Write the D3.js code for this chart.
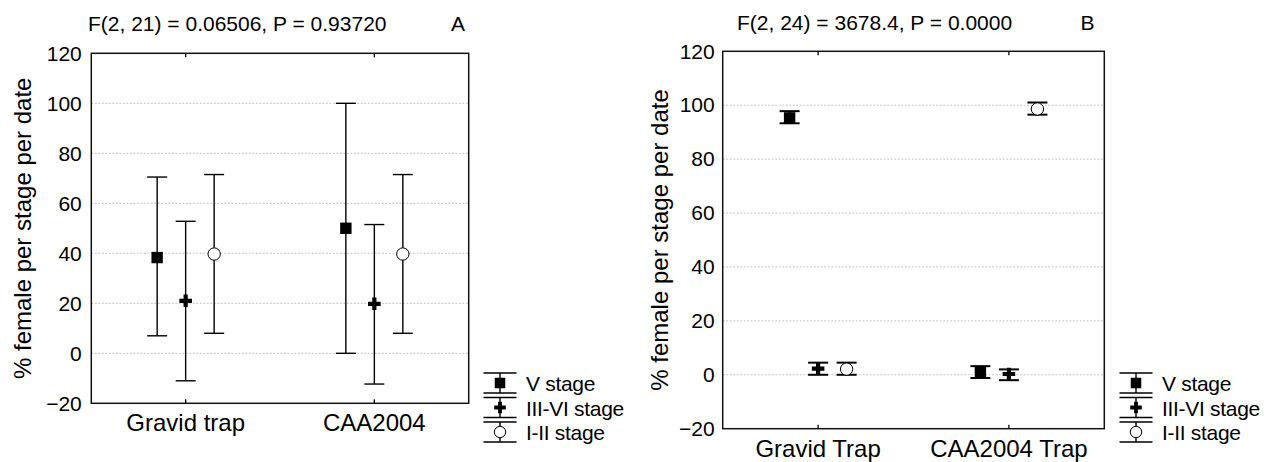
<!DOCTYPE html>
<html><head><meta charset="utf-8">
<script src="https://cdn.jsdelivr.net/npm/d3@7"></script>
<style>
body{margin:0;background:#fff;}
svg{display:block;font-family:"Liberation Sans",Arial,sans-serif;}
</style></head>
<body><svg id="chart" width="1270" height="462"></svg>
<script>
// ---- data ----
const stages = ["V stage", "III-VI stage", "I-II stage"];
const yTicks = [-20, 0, 20, 40, 60, 80, 100, 120];

// Panel A
const categoriesA = ["Gravid trap", "CAA2004"];
const titleA = "F(2, 21) = 0.06506, P = 0.93720";
const meanA_V   = [38.3, 50];   const lowA_V   = [7, 0];     const highA_V   = [70.5, 100];
const meanA_III = [21, 19.8];   const lowA_III = [-11, -12.3]; const highA_III = [52.8, 51.5];
const meanA_I   = [39.7, 39.7]; const lowA_I   = [8, 8];     const highA_I   = [71.5, 71.5];

// Panel B
const categoriesB = ["Gravid Trap", "CAA2004 Trap"];
const titleB = "F(2, 24) = 3678.4, P = 0.0000";
const meanB_V   = [95.3, 1];    const lowB_V   = [93.3, -1.2]; const highB_V   = [97.8, 3.2];
const meanB_III = [2.3, 0.3];   const lowB_III = [0, -2];      const highB_III = [4.5, 2];
const meanB_I   = [2.1, 98.6];  const lowB_I   = [0, 96.5];    const highB_I   = [4.5, 101];

const svg = d3.select("#chart");
const markerFor = {
  "V stage":      {type: d3.symbolSquare, size: 130, fill: "#000"},
  "III-VI stage": {type: d3.symbolCross,  size: 88,  fill: "#000"},
  "I-II stage":   {type: d3.symbolCircle, size: 120, fill: "#fff"}
};

function panel(cfg) {
  const g = svg.append("g");
  const x = d3.scaleBand().domain(cfg.categories).range([cfg.left, cfg.right]).paddingInner(0).paddingOuter(0);
  const off = d3.scalePoint().domain(stages).range([-28.5, 28.5]);
  const y = d3.scaleLinear().domain([-20, 120]).range([cfg.bottom, cfg.top]);

  // grid
  g.selectAll("line.grid").data(yTicks.filter(t => t > -20 && t < 120)).join("line")
    .attr("x1", cfg.left).attr("x2", cfg.right)
    .attr("y1", d => y(d)).attr("y2", d => y(d))
    .attr("stroke", "#c4c4c4").attr("stroke-width", 1).attr("stroke-dasharray", "2,1.5");

  // y axis labels
  const ya = d3.axisLeft(y).tickValues(yTicks).tickSize(0).tickPadding(cfg.yPad);
  const yg = g.append("g").attr("transform", `translate(${cfg.left},0)`).call(ya);
  yg.select(".domain").remove();
  yg.selectAll("text").attr("font-size", 21).attr("fill", "#000").attr("font-family", "Liberation Sans, Arial");

  // x axis bottom
  const xa = d3.axisBottom(x).tickSize(-4).tickPadding(11);
  const xg = g.append("g").attr("transform", `translate(0,${cfg.bottom})`).call(xa);
  xg.select(".domain").remove();
  xg.selectAll("line").attr("stroke", "#000").attr("stroke-width", 1.3);
  xg.selectAll("text").attr("font-size", 24).attr("fill", "#000").attr("font-family", "Liberation Sans, Arial");
  // x axis top (inner ticks)
  const xt = g.append("g").attr("transform", `translate(0,${cfg.top})`).call(d3.axisTop(x).tickSize(-4).tickFormat(""));
  xt.select(".domain").remove();
  xt.selectAll("line").attr("stroke", "#000").attr("stroke-width", 1.3);

  // frame
  g.append("rect").attr("x", cfg.left).attr("y", cfg.top)
    .attr("width", cfg.right - cfg.left).attr("height", cfg.bottom - cfg.top)
    .attr("fill", "none").attr("stroke", "#111").attr("stroke-width", 1.5);

  // error bars
  const rows = [];
  cfg.categories.forEach((c, ci) => {
    stages.forEach((s, si) => {
      rows.push({cat: c, stage: s, mean: cfg.means[si][ci], low: cfg.lows[si][ci], high: cfg.highs[si][ci]});
    });
  });
  const eb = g.selectAll("g.eb").data(rows).join("g")
    .attr("transform", d => `translate(${x(d.cat) + x.bandwidth() / 2 + off(d.stage)},0)`);
  eb.append("line").attr("y1", d => y(d.low)).attr("y2", d => y(d.high))
    .attr("stroke", "#000").attr("stroke-width", 1.4);
  eb.append("line").attr("x1", -10).attr("x2", 10).attr("y1", d => y(d.high)).attr("y2", d => y(d.high))
    .attr("stroke", "#000").attr("stroke-width", cfg.capW);
  eb.append("line").attr("x1", -10).attr("x2", 10).attr("y1", d => y(d.low)).attr("y2", d => y(d.low))
    .attr("stroke", "#000").attr("stroke-width", cfg.capW);
  eb.append("path")
    .attr("d", d => d3.symbol(markerFor[d.stage].type, markerFor[d.stage].size)())
    .attr("transform", d => `translate(0,${y(d.mean)})`)
    .attr("fill", d => markerFor[d.stage].fill)
    .attr("stroke", d => d.stage === "I-II stage" ? "#000" : "none").attr("stroke-width", 1);

  // titles
  g.append("text").attr("x", cfg.titleX).attr("y", cfg.titleY).attr("font-size", 21).text(cfg.title);
  g.append("text").attr("x", cfg.letterX).attr("y", cfg.titleY).attr("font-size", 21).text(cfg.letter);
  g.append("text")
    .attr("transform", `translate(${cfg.yTitleX},${(cfg.top + cfg.bottom) / 2}) rotate(-90)`)
    .attr("text-anchor", "middle").attr("font-size", 24).text("% female per stage per date");

  // legend
  const ly = d3.scalePoint().domain(stages).range([383, 432]);
  const lg = g.selectAll("g.leg").data(stages).join("g")
    .attr("transform", d => `translate(${cfg.legX},${ly(d)})`);
  lg.append("line").attr("y1", -10).attr("y2", 10).attr("stroke", "#000").attr("stroke-width", 1.4);
  lg.append("line").attr("x1", -16.5).attr("x2", 16.5).attr("y1", -10).attr("y2", -10).attr("stroke", "#000").attr("stroke-width", 1.4);
  lg.append("line").attr("x1", -16.5).attr("x2", 16.5).attr("y1", 10).attr("y2", 10).attr("stroke", "#000").attr("stroke-width", 1.4);
  lg.append("path")
    .attr("d", d => d3.symbol(markerFor[d].type, markerFor[d].size * 0.85)())
    .attr("fill", d => markerFor[d].fill)
    .attr("stroke", d => d === "I-II stage" ? "#000" : "none");
  lg.append("text").attr("x", 26).attr("y", 8).attr("font-size", 21).attr("letter-spacing", -0.3).text(d => d);
}

panel({
  categories: categoriesA, left: 91.3, right: 468.7, top: 53.3, bottom: 403.3,
  means: [meanA_V, meanA_III, meanA_I], lows: [lowA_V, lowA_III, lowA_I], highs: [highA_V, highA_III, highA_I],
  title: titleA, letter: "A", titleX: 88, titleY: 31, letterX: 451, yTitleX: 31, yPad: 9.5,
  legX: 500, capW: 1.4
});
panel({
  categories: categoriesB, left: 722.7, right: 1104.3, top: 51.3, bottom: 428.7,
  means: [meanB_V, meanB_III, meanB_I], lows: [lowB_V, lowB_III, lowB_I], highs: [highB_V, highB_III, highB_I],
  title: titleB, letter: "B", titleX: 737, titleY: 30, letterX: 1080.5, yTitleX: 668, yPad: 8,
  legX: 1136, capW: 2
});
</script></body></html>
